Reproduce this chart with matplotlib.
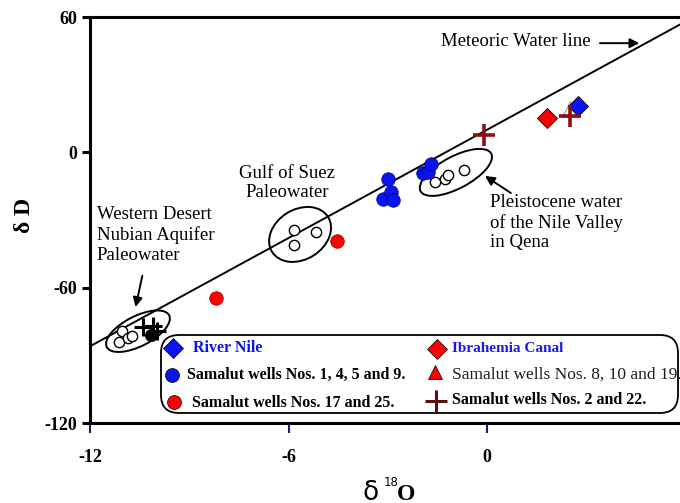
import numpy as np
import matplotlib
matplotlib.use('Agg')
import matplotlib.pyplot as plt
from matplotlib.patches import Ellipse, FancyBboxPatch
from matplotlib.transforms import ScaledTranslation

plt.rcParams['font.family'] = ['Liberation Serif', 'DejaVu Serif']

# --- data (delta 18O, delta D) ---
river_nile_o18 = [2.74]
river_nile_d = [20.6]
ibrahemia_o18 = [1.82]
ibrahemia_d = [15.1]
wells_1459_o18 = [-2.98, -3.15, -2.91, -2.83, -1.93, -1.77, -1.69]
wells_1459_d = [-12.0, -20.6, -17.6, -21.2, -9.0, -8.6, -5.3]
wells_1725_o18 = [-8.19, -4.54]
wells_1725_d = [-64.6, -39.4]
wells_81019_o18 = [2.51]
wells_81019_d = [19.1]
wells_222_o18 = [-0.08, 2.51]
wells_222_d = [7.6, 16.1]
nubian_o18 = [-11.03, -11.12, -10.84, -10.74]
nubian_d = [-79.4, -84.3, -82.1, -81.6]
nubian_cross_o18 = [-10.39, -10.09, -9.98]
nubian_cross_d = [-77.6, -76.9, -79.1]
nubian_dot_o18 = [-10.16]
nubian_dot_d = [-80.9]
suez_o18 = [-5.83, -5.83, -5.17]
suez_d = [-34.5, -40.9, -35.4]
qena_o18 = [-1.57, -1.27, -1.19, -0.70]
qena_d = [-13.2, -11.7, -10.2, -7.9]

mwl_slope = 8
mwl_intercept = 10
mwl_x = [-12, 6]

x_ticks = [-12, -6, 0, 6]
y_ticks = [-120, -60, 0, 60]

W, H = 680, 503
fig = plt.figure(figsize=(W / 100, H / 100), dpi=100)
ax = fig.add_axes([90 / W, 80 / H, 595.5 / W, 406 / H])
ax.set_xlim(-12, 6)
ax.set_ylim(-120, 60)

mx = np.array(mwl_x)
ax.plot(mx, mwl_slope * mx + mwl_intercept, color='black', lw=1.4, zorder=2)

# ellipses drawn in pixel size around data centres
def px_ellipse(cx, cy, w, h, ang):
    tr = fig.dpi_scale_trans + ScaledTranslation(cx, cy, ax.transData)
    e = Ellipse((0, 0), w / 100, h / 100, angle=ang, transform=tr,
                fill=False, ec='black', lw=1.4, zorder=3)
    ax.add_artist(e)

px_ellipse(-10.55, -79.3, 70, 30, 27)
px_ellipse(-5.65, -36.4, 66, 50, 32)
px_ellipse(-0.94, -8.9, 80, 32, 28)

ax.scatter(nubian_o18, nubian_d, s=55, facecolor='white', edgecolor='black', lw=1, zorder=4)
ax.scatter(suez_o18, suez_d, s=55, facecolor='white', edgecolor='black', lw=1, zorder=4)
ax.scatter(qena_o18, qena_d, s=55, facecolor='white', edgecolor='black', lw=1, zorder=4)
ax.scatter(nubian_dot_o18, nubian_dot_d, s=70, color='black', zorder=5)
ax.plot(nubian_cross_o18, nubian_cross_d, ls='none', marker='+', ms=13, mew=2.2,
        color='black', zorder=6)

ax.scatter(wells_1459_o18, wells_1459_d, s=95, color='#0a14f0', edgecolor='#000080',
           lw=0.5, zorder=5)
ax.scatter(wells_1725_o18, wells_1725_d, s=95, color='#ff0000', edgecolor='#800000',
           lw=0.5, zorder=5)
ax.plot(wells_81019_o18, wells_81019_d, ls='none', marker='^', ms=11, mfc='white',
        mec='#999999', mew=0.8, zorder=4)
ax.plot(ibrahemia_o18, ibrahemia_d, ls='none', marker='D', ms=10, mfc='#ff0000',
        mec='black', mew=0.6, zorder=5)
ax.plot(river_nile_o18, river_nile_d, ls='none', marker='D', ms=10, mfc='#0a14f0',
        mec='black', mew=0.6, zorder=5)
ax.plot(wells_222_o18, wells_222_d, ls='none', marker='+', ms=16, mew=2.6,
        color='#8b1010', zorder=6)

# annotations
ax.text(-1.38, 49.0, 'Meteoric Water line', fontsize=13.5, va='center', ha='left')
ax.annotate('', xy=(4.69, 48.4), xytext=(3.33, 48.4),
            arrowprops=dict(arrowstyle='-|>', color='black', lw=1.4, mutation_scale=14))
ax.text(-6.05, -5.4, 'Gulf of Suez\nPaleowater', fontsize=13.5, ha='center', va='top',
        linespacing=1.22)
ax.text(-11.80, -23.9, 'Western Desert\nNubian Aquifer\nPaleowater', fontsize=13.5,
        ha='left', va='top', linespacing=1.22)
ax.annotate('', xy=(-10.64, -69.8), xytext=(-10.40, -53.5),
            arrowprops=dict(arrowstyle='-|>', color='black', lw=1.4, mutation_scale=14))
ax.text(0.09, -18.3, 'Pleistocene water\nof the Nile Valley\nin Qena', fontsize=13.5,
        ha='left', va='top', linespacing=1.22)
ax.annotate('', xy=(-0.13, -9.8), xytext=(0.79, -18.7),
            arrowprops=dict(arrowstyle='-|>', color='black', lw=1.4, mutation_scale=14))

# axes styling
for side in ['left', 'bottom', 'top']:
    ax.spines[side].set_linewidth(2.2)
ax.set_xticks(x_ticks)
ax.set_yticks(y_ticks)
ax.set_xticklabels([str(v) for v in x_ticks], fontsize=13, fontweight='bold')
ax.set_yticklabels([str(v) for v in y_ticks], fontsize=13, fontweight='bold')
ax.tick_params(axis='y', direction='out', length=6, width=2.2, pad=3)
ax.tick_params(axis='x', direction='out', length=7, width=1.5, color='#1a1a6e', pad=12)

fig.text(24 / W, 1 - 215 / H, 'δ D', rotation=90, fontsize=17, fontweight='bold',
         ha='center', va='center')
fig.text(363 / W, 1 - 500 / H, 'δ', fontsize=19, family='DejaVu Sans', ha='left',
         va='baseline')
fig.text(384 / W, 1 - 486 / H, '18', fontsize=8.5, family='DejaVu Sans', ha='left',
         va='baseline')
fig.text(397 / W, 1 - 500 / H, 'O', fontsize=17, fontweight='bold', ha='left',
         va='baseline')

# legend box in pixel overlay
ov = fig.add_axes([0, 0, 1, 1], zorder=10)
ov.set_xlim(0, W)
ov.set_ylim(H, 0)
ov.axis('off')
ov.add_patch(FancyBboxPatch((161, 335), 517, 78,
                            boxstyle='round,pad=0,rounding_size=18',
                            fc='white', ec='black', lw=1.3))

leg_markers = [
    (173, 348, 'D', '#0a14f0', 10),
    (437, 349, 'D', '#ff0000', 10),
    (172, 375, 'o', '#0a14f0', 10),
    (435, 372, '^', '#ff0000', 10),
    (174, 402, 'o', '#ff0000', 10),
]
for x, y, m, c, ms in leg_markers:
    ov.plot([x], [y], marker=m, ms=ms, mfc=c, mec='black', mew=0.5, ls='none')
ov.plot([436], [401], marker='+', ms=16, mew=2.2, color='#5a1010', ls='none')

ov.text(193, 348, 'River Nile', fontsize=11.5, fontweight='bold', color='#0a14f0',
        va='center')
ov.text(452, 348, 'Ibrahemia Canal', fontsize=11, fontweight='bold', color='#1a1af0',
        va='center')
ov.text(187, 375, 'Samalut wells Nos. 1, 4, 5 and 9.', fontsize=11.5, fontweight='bold',
        va='center')
ov.text(452, 375, 'Samalut wells Nos. 8, 10 and 19.', fontsize=12.5, color='#1e1e1e',
        va='center')
ov.text(192, 403, 'Samalut wells Nos. 17 and 25.', fontsize=11.5, fontweight='bold',
        va='center')
ov.text(452, 400, 'Samalut wells Nos. 2 and 22.', fontsize=11.5, fontweight='bold',
        va='center')

fig.savefig('out.png', dpi=100)
